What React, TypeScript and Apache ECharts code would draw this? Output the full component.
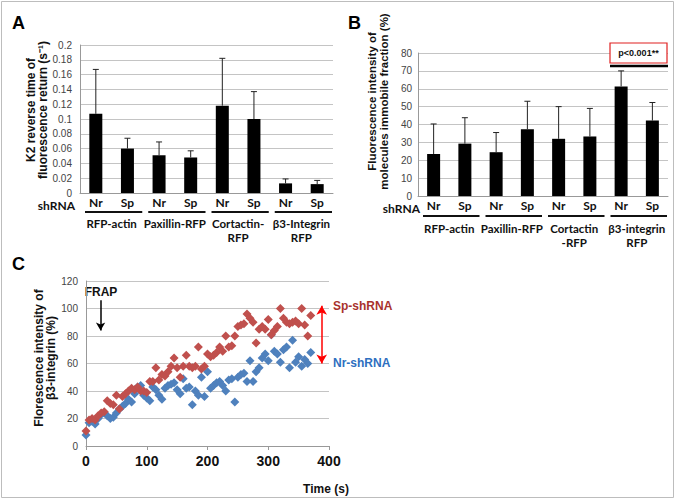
import React, { useEffect, useRef } from "react";
import * as echarts from "echarts";

const shCats = ["Nr", "Sp", "Nr", "Sp", "Nr", "Sp", "Nr", "Sp"];
const groupsA = ["RFP-actin", "Paxillin-RFP", "Cortactin-\nRFP", "β3-Integrin\nRFP"];
const groupsB = ["RFP-actin", "Paxillin-RFP", "Cortactin\n-RFP", "β3-integrin\nRFP"];

const aMean = [0.107, 0.06, 0.051, 0.048, 0.118, 0.1, 0.013, 0.012];
const aUpper = [0.167, 0.074, 0.069, 0.057, 0.182, 0.137, 0.019, 0.017];

const bMean = [23.5, 29.3, 24.5, 37.3, 32, 33.3, 61.3, 42.2];
const bUpper = [40.3, 43.8, 35.5, 53, 50, 49, 70, 52.3];

const times = [
  0, 5, 10, 15, 20, 25, 30, 35, 40, 45, 50, 55, 60, 65, 70, 75, 80, 85, 90, 95,
  100, 105, 110, 115, 120, 125, 130, 135, 140, 145, 150, 155, 160, 165, 170, 175, 180, 185, 190, 195,
  200, 205, 210, 215, 220, 225, 230, 235, 240, 245, 250, 255, 260, 265, 270, 275, 280, 285, 290, 295,
  300, 305, 310, 315, 320, 325, 330, 335, 340, 345, 350, 355, 360, 365, 370,
];
const spY = [
  11, 19, 20, 19, 22, 24, 25, 33, 31, 30, 37, 27, 36, 38, 40, 42, 41, 43, 40, 40,
  39, 47, 47, 57, 48, 52, 51, 54, 58, 64, 57, 50, 58, 66, 58, 57, 58, 72, 56, 58,
  67, 65, 66, 68, 72, 69, 80, 72, 73, 80, 87, 88, 89, 96, 93, 90, 75, 85, 87, 85,
  92, 81, 84, 87, 100, 93, 90, 89, 90, 91, 89, 100, 88, 80, 95,
];
const nrY = [
  8, 17, 18, 16, 20, 23, 24, 22, 20, 21, 24, 27, 29, 31, 34, 32, 38, 43, 44, 37,
  35, 33, 43, 41, 37, 34, 42, 44, 45, 46, 41, 38, 49, 42, 43, 30, 40, 37, 50, 36,
  54, 42, 44, 46, 47, 44, 40, 48, 49, 32, 50, 52, 53, 47, 62, 47, 54, 57, 64, 67,
  62, 81, 69, 67, 61, 70, 72, 57, 77, 61, 65, 58, 63, 60, 68,
];

const yTicksA = { min: 0, max: 0.2, interval: 0.02 };
const yTicksB = { min: 0, max: 80, interval: 10 };
const yTicksC = { min: 0, max: 120, interval: 20 };
const xTicksC = { min: 0, max: 400, interval: 100 };

const titleA = "K2 reverse time of\nfluorescence return (s\u207B\u00B9)";
const titleB = "Fluorescence intensity of\nmolecules immobile fraction (%)";
const titleC = "Florescence intensity of\nβ3-integrin (%)";

const RED = "#C0504D";
const BLUE = "#4F81BD";
const CAL = "Lato, 'Liberation Sans', sans-serif";
const ARIAL = "'Liberation Sans', Arial, sans-serif";

const gA = { left: 80, top: 45, width: 253, height: 148 };
const gB = { left: 418, top: 53, width: 250, height: 143 };
const gC = { left: 86, top: 281, width: 243, height: 165 };

function errRender(params: any, api: any) {
  const base = api.coord([api.value(0), api.value(1)]);
  const top = api.coord([api.value(0), api.value(2)]);
  const st = { stroke: "#222", lineWidth: 1 };
  return {
    type: "group",
    children: [
      { type: "line", shape: { x1: base[0], y1: base[1], x2: top[0], y2: top[1] }, style: st },
      { type: "line", shape: { x1: top[0] - 3, y1: top[1], x2: top[0] + 3, y2: top[1] }, style: st },
    ],
  };
}

function underlines(g: any, y: number) {
  const w = g.width / 4;
  return [0, 1, 2, 3].map((i) => ({
    type: "line",
    shape: { x1: g.left + i * w + 5, y1: y, x2: g.left + (i + 1) * w - 1, y2: y },
    style: { stroke: "#111", lineWidth: 2 },
  }));
}

export default function App() {
  const ref = useRef<HTMLDivElement>(null);
  useEffect(() => {
    const chart = echarts.init(ref.current!, null, { renderer: "svg" });
    const catAxis = (gi: number) => ({
      type: "category",
      gridIndex: gi,
      data: shCats,
      axisLine: { lineStyle: { color: "#999" } },
      axisTick: { show: false },
      axisLabel: { color: "#111", fontWeight: "bold", fontSize: 12, fontFamily: CAL, margin: 3 },
    });
    const grpAxis = (gi: number, data: string[], offset: number) => ({
      type: "category",
      gridIndex: gi,
      data,
      position: "bottom",
      offset,
      axisLine: { show: false },
      axisTick: { show: false },
      axisLabel: {
        color: "#111",
        fontWeight: "bold",
        fontSize: 11.5,
        fontFamily: CAL,
        margin: 2,
        lineHeight: 14,
        interval: 0,
      },
    });
    const valY = (gi: number, t: any, margin: number, name: string, gap: number, shift: number, fs: number, fmt?: any) => ({
      type: "value",
      gridIndex: gi,
      ...t,
      name,
      nameLocation: "middle",
      nameRotate: 90,
      nameGap: gap,
      nameTextStyle: {
        color: "#111",
        fontWeight: "bold",
        fontSize: fs,
        fontFamily: ARIAL,
        lineHeight: 12,
        padding: [0, 0, 0, shift],
      },
      axisLine: { show: true, lineStyle: { color: "#999" } },
      axisTick: { show: false },
      splitLine: { lineStyle: { color: "#c4c4c4" } },
      axisLabel: { color: "#444", fontSize: 10, fontFamily: ARIAL, margin, formatter: fmt },
    });
    const option: any = {
      animation: false,
      backgroundColor: "#fff",
      grid: [gA, gB, gC],
      xAxis: [
        catAxis(0),
        grpAxis(0, groupsA, 21),
        catAxis(1),
        grpAxis(1, groupsB, 23),
        {
          type: "value",
          gridIndex: 2,
          ...xTicksC,
          axisLine: { lineStyle: { color: "#999" } },
          axisTick: { show: true, length: 4, lineStyle: { color: "#999" } },
          splitLine: { show: false },
          axisLabel: { color: "#111", fontSize: 14, fontWeight: "bold", fontFamily: ARIAL, margin: 8 },
        },
      ],
      yAxis: [
        valY(0, yTicksA, 8, titleA, 29, 18, 12, (v: number) => String(+v.toFixed(2))),
        valY(1, yTicksB, 6, titleB, 28, 46, 11.5),
        valY(2, yTicksC, 8, titleC, 25, 11, 12),
      ],
      series: [
        {
          type: "bar",
          xAxisIndex: 0,
          yAxisIndex: 0,
          data: aMean,
          barWidth: 13,
          itemStyle: { color: "#000" },
        },
        {
          type: "custom",
          xAxisIndex: 0,
          yAxisIndex: 0,
          renderItem: errRender,
          encode: { x: 0, y: [1, 2] },
          data: aMean.map((m, i) => [i, m, aUpper[i]]),
          z: 3,
        },
        {
          type: "bar",
          xAxisIndex: 2,
          yAxisIndex: 1,
          data: bMean,
          barWidth: 13,
          itemStyle: { color: "#000" },
        },
        {
          type: "custom",
          xAxisIndex: 2,
          yAxisIndex: 1,
          renderItem: errRender,
          encode: { x: 0, y: [1, 2] },
          data: bMean.map((m, i) => [i, m, bUpper[i]]),
          z: 3,
        },
        {
          type: "scatter",
          xAxisIndex: 4,
          yAxisIndex: 2,
          symbol: "diamond",
          symbolSize: 9,
          itemStyle: { color: BLUE, opacity: 1 },
          data: times.map((t, i) => [t, nrY[i]]),
          markLine: {
            silent: true,
            symbol: ["none", "arrow"],
            symbolSize: [7, 8],
            label: { show: false },
            lineStyle: { color: "#000", width: 1.5, type: "solid" },
            data: [[{ coord: [24, 106] }, { coord: [24, 84] }]],
          },
        },
        {
          type: "scatter",
          xAxisIndex: 4,
          yAxisIndex: 2,
          symbol: "diamond",
          symbolSize: 9,
          itemStyle: { color: RED, opacity: 1 },
          data: times.map((t, i) => [t, spY[i]]),
          markLine: {
            silent: true,
            symbol: ["arrow", "arrow"],
            symbolSize: [8, 9],
            label: { show: false },
            lineStyle: { color: "#ff0000", width: 1.5, type: "solid" },
            data: [[{ coord: [388, 102] }, { coord: [388, 60] }]],
          },
        },
      ],
      graphic: [
        {
          type: "rect",
          shape: { x: 1.5, y: 1.5, width: 672, height: 496 },
          style: { fill: "none", stroke: "#bdbdbd", lineWidth: 1 },
          silent: true,
        },
        { type: "text", x: 12, y: 14, style: { text: "A", font: "900 18px " + ARIAL, fill: "#000" } },
        { type: "text", x: 348, y: 14, style: { text: "B", font: "900 18px " + ARIAL, fill: "#000" } },
        { type: "text", x: 12, y: 255, style: { text: "C", font: "900 18px " + ARIAL, fill: "#000" } },
        {
          type: "text",
          x: 75,
          y: 205,
          style: { text: "shRNA", font: "bold 12px " + CAL, fill: "#111", align: "right", verticalAlign: "middle" },
        },
        {
          type: "text",
          x: 420,
          y: 208,
          style: { text: "shRNA", font: "bold 12px " + CAL, fill: "#111", align: "right", verticalAlign: "middle" },
        },
        ...underlines(gA, 212),
        ...underlines(gB, 216),
        {
          type: "rect",
          z: 100,
          shape: { x: 610, y: 43, width: 57, height: 20 },
          style: { fill: "#fff", stroke: "#e02020", lineWidth: 1.2 },
        },
        {
          type: "text",
          z: 101,
          x: 638.5,
          y: 53,
          style: { text: "p<0.001**", font: "bold 9px " + ARIAL, fill: "#111", align: "center", verticalAlign: "middle" },
        },
        {
          type: "line",
          z: 100,
          shape: { x1: 610, y1: 66, x2: 668, y2: 66 },
          style: { stroke: "#000", lineWidth: 2.5 },
        },
        {
          type: "text",
          x: 101,
          y: 292,
          style: { text: "FRAP", font: "bold 12px " + ARIAL, fill: "#111", align: "center", verticalAlign: "middle" },
        },
        {
          type: "text",
          x: 333,
          y: 306,
          style: { text: "Sp-shRNA", font: "bold 12px " + ARIAL, fill: "#A8322D", verticalAlign: "middle" },
        },
        {
          type: "text",
          x: 333,
          y: 363,
          style: { text: "Nr-shRNA", font: "bold 12px " + ARIAL, fill: "#2E6FC0", verticalAlign: "middle" },
        },
        {
          type: "text",
          x: 326,
          y: 489,
          style: { text: "Time (s)", font: "bold 12px " + ARIAL, fill: "#111", align: "center", verticalAlign: "middle" },
        },
      ],
    };
    chart.setOption(option);
    return () => chart.dispose();
  }, []);
  return (
    <div
      ref={ref}
      style={{ position: "absolute", left: 0, top: 0, width: 675, height: 499, background: "#fff" }}
    />
  );
}
